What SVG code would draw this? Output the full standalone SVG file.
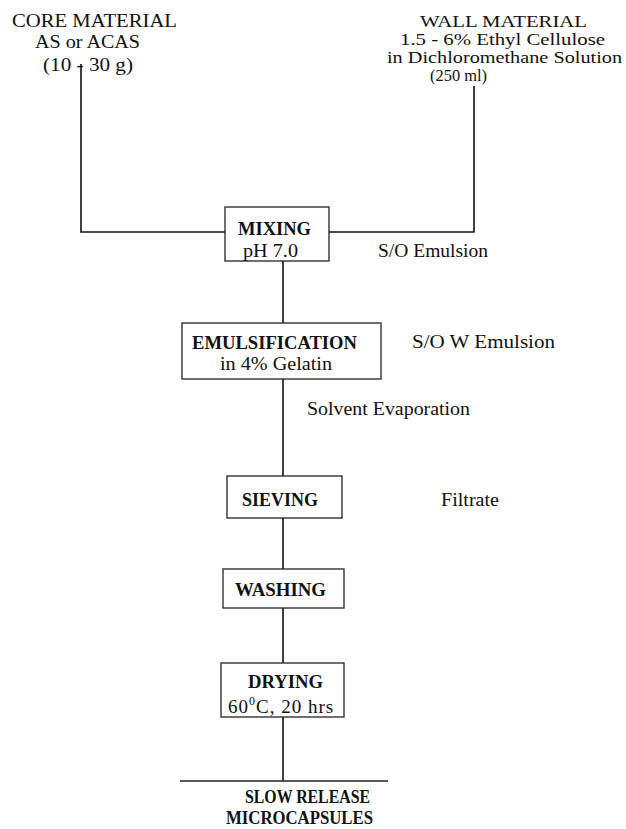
<svg xmlns="http://www.w3.org/2000/svg" width="626" height="829" viewBox="0 0 626 829">
<style>
text{font-family:"Liberation Serif","Times New Roman",serif;font-size:19px;fill:#111}
.b{font-weight:bold}
.w{font-size:17px}
.box{fill:none;stroke:#222;stroke-width:1.3}
.c{fill:none;stroke:#111;stroke-width:1.6}
</style>
<rect width="626" height="829" fill="#fff"/>
<g id="core">
<text x="12" y="27" textLength="165" lengthAdjust="spacingAndGlyphs">CORE MATERIAL</text>
<text x="35" y="48" textLength="105" lengthAdjust="spacingAndGlyphs">AS or ACAS</text>
<text x="43" y="71" textLength="90" lengthAdjust="spacingAndGlyphs">(10 - 30 g)</text>
</g>
<g id="wall">
<text class="w" x="420" y="27" textLength="167" lengthAdjust="spacingAndGlyphs">WALL MATERIAL</text>
<text class="w" x="400" y="45" textLength="205" lengthAdjust="spacingAndGlyphs">1.5 - 6% Ethyl Cellulose</text>
<text class="w" x="387" y="63" textLength="235" lengthAdjust="spacingAndGlyphs">in Dichloromethane Solution</text>
<text class="w" x="430" y="81" textLength="57" lengthAdjust="spacingAndGlyphs">(250 ml)</text>
</g>
<g id="connectors">
<polyline class="c" points="81,64 81,232 225,232"/>
<polyline class="c" points="474,86 474,232 329,232"/>
<line class="c" x1="283" y1="261" x2="283" y2="323"/>
<line class="c" x1="283" y1="379" x2="283" y2="476"/>
<line class="c" x1="283" y1="518" x2="283" y2="569"/>
<line class="c" x1="283" y1="608" x2="283" y2="663"/>
<line class="c" x1="283" y1="717" x2="283" y2="781"/>
</g>
<g id="mixing">
<rect class="box" x="225" y="207" width="104" height="54"/>
<text class="b" x="238" y="235" textLength="73" lengthAdjust="spacingAndGlyphs">MIXING</text>
<text x="243" y="257" textLength="55" lengthAdjust="spacingAndGlyphs">pH 7.0</text>
</g>
<text id="so-emulsion" x="378" y="257" textLength="110" lengthAdjust="spacingAndGlyphs">S/O Emulsion</text>
<g id="emulsification">
<rect class="box" x="182" y="323" width="199" height="56"/>
<text class="b" x="192" y="349" textLength="165" lengthAdjust="spacingAndGlyphs">EMULSIFICATION</text>
<text x="220" y="370" textLength="112" lengthAdjust="spacingAndGlyphs">in 4% Gelatin</text>
</g>
<text id="sow-emulsion" x="412" y="348" textLength="143" lengthAdjust="spacingAndGlyphs">S/O W Emulsion</text>
<text id="solvent" x="307" y="415" textLength="163" lengthAdjust="spacingAndGlyphs">Solvent Evaporation</text>
<g id="sieving">
<rect class="box" x="227" y="476" width="115" height="42"/>
<text class="b" x="242" y="506" textLength="76" lengthAdjust="spacingAndGlyphs">SIEVING</text>
</g>
<text id="filtrate" x="441" y="506" textLength="58" lengthAdjust="spacingAndGlyphs">Filtrate</text>
<g id="washing">
<rect class="box" x="223" y="569" width="121" height="39"/>
<text class="b" x="235" y="596" textLength="91" lengthAdjust="spacingAndGlyphs">WASHING</text>
</g>
<g id="drying">
<rect class="box" x="221" y="663" width="123" height="54"/>
<text class="b" x="248" y="688" textLength="75" lengthAdjust="spacingAndGlyphs">DRYING</text>
<text x="228" y="713" letter-spacing="1">60<tspan dy="-8" font-size="12">0</tspan><tspan dy="8">C, 20 hrs</tspan></text>
</g>
<g id="microcapsules">
<line class="box" x1="180" y1="781" x2="388" y2="781"/>
<text class="b" x="245" y="803" textLength="125" lengthAdjust="spacingAndGlyphs">SLOW RELEASE</text>
<text class="b" x="226" y="824" textLength="147" lengthAdjust="spacingAndGlyphs">MICROCAPSULES</text>
</g>
</svg>
